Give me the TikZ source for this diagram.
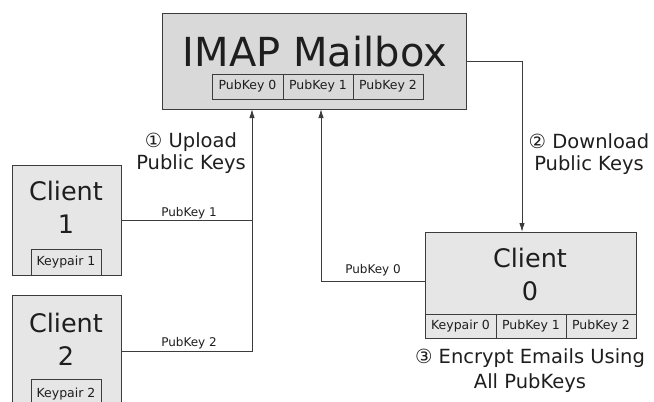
\documentclass[tikz,border=0pt]{standalone}
\usepackage{fontspec}
\setmainfont{DejaVu Sans}
\usetikzlibrary{arrows.meta}
\definecolor{boxdark}{HTML}{D9D9D9}
\definecolor{boxlight}{HTML}{E6E6E6}
\definecolor{linec}{HTML}{3C3C3C}
\definecolor{txt}{HTML}{1E1E1E}
\begin{document}
\begin{tikzpicture}[x=1pt,y=-1pt,
  box/.style={draw=linec, line width=1pt, inner sep=0pt, outer sep=0pt},
  cell/.style={draw=linec, line width=1pt, inner sep=0pt, outer sep=0pt, text=txt,
    font=\fontsize{12.5}{14}\selectfont},
  title/.style={text=txt, inner sep=0pt, anchor=base, align=center},
  steplbl/.style={text=txt, inner sep=0pt, anchor=base, align=center,
    font=\fontsize{19.5}{22}\selectfont},
  conlbl/.style={text=txt, inner sep=0pt, anchor=base, font=\fontsize{12}{14}\selectfont},
  conn/.style={draw=linec, line width=1pt},
  arr/.style={conn, -{Latex[length=9pt,width=5.5pt]}}]
\useasboundingbox (0,0) rectangle (654,402);

% boxes
\node[box, fill=boxdark, minimum width=304pt, minimum height=96pt] (mb) at (314,61) {};
\node[box, fill=boxlight, minimum width=109pt, minimum height=110pt] (c1) at (66.5,220) {};
\node[box, fill=boxlight, minimum width=109pt, minimum height=112pt] (c2) at (66.5,351) {};
\node[box, fill=boxlight, minimum width=211pt, minimum height=106pt] (c0) at (530.5,285) {};

% mailbox cells
\node[cell, minimum width=71pt, minimum height=25pt] (mk0) at (247.5,86.5) {PubKey 0};
\node[cell, minimum width=70pt, minimum height=25pt] (mk1) at (318,86.5) {PubKey 1};
\node[cell, minimum width=70pt, minimum height=25pt] (mk2) at (388,86.5) {PubKey 2};

% client 0 cells
\node[cell, minimum width=71pt, minimum height=24pt] (k0) at (460.5,326) {Keypair 0};
\node[cell, minimum width=70pt, minimum height=24pt] (p1) at (531,326) {PubKey 1};
\node[cell, minimum width=70pt, minimum height=24pt] (p2) at (601,326) {PubKey 2};

% keypairs
\node[cell, minimum width=70pt, minimum height=26pt] (k1) at (66,262) {Keypair 1};
\node[cell, minimum width=70pt, minimum height=28pt] (k2) at (66,393) {};
\node[conlbl, font=\fontsize{12.5}{14}\selectfont] (k2t) at (66,397) {Keypair 2};

% titles
\node[title, font=\fontsize{40}{48}\selectfont] (mbt) at (315,66) {IMAP Mailbox};
\node[title, font=\fontsize{25.5}{33}\selectfont] (c1t) at (66,233) {Client\\1};
\node[title, font=\fontsize{25.5}{33}\selectfont] (c2t) at (66,365) {Client\\2};
\node[title, font=\fontsize{25.5}{33}\selectfont] (c0t) at (530,300) {Client\\0};

% step labels
\node[steplbl] (s1) at (191,169) {① Upload\\Public Keys};
\node[steplbl] (s2) at (589,170) {② Download\\Public Keys};
\node[steplbl, font=\fontsize{19.5}{25}\selectfont] (s3) at (530,388) {③ Encrypt Emails Using\\All PubKeys};

% connectors
\coordinate (j1) at (252,109);
\coordinate (j0) at (321,109);
\coordinate (j2) at (522,232);
\coordinate (c0w) at (425,281);
\draw[conn] (c1.east) -- (c1.east -| j1);
\draw[arr] (c2.east) -| (j1);
\draw[arr] (c0w) -| (j0);
\draw[arr] (mb.east) -| (j2);

% connector labels
\node[conlbl] (l1) at (189,216) {PubKey 1};
\node[conlbl] (l2) at (189,346) {PubKey 2};
\node[conlbl] (l0) at (373,273) {PubKey 0};
\end{tikzpicture}
\end{document}
